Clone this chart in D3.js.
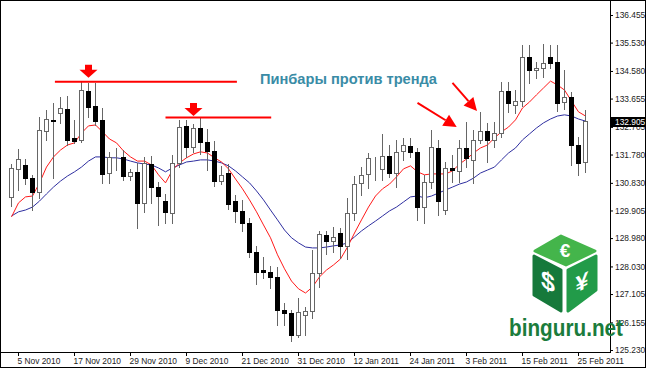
<!DOCTYPE html>
<html><head><meta charset="utf-8">
<script src="https://cdn.jsdelivr.net/npm/d3@7/dist/d3.min.js"></script>
<style>body{margin:0;background:#fff}svg{display:block}</style>
</head><body>
<svg id="c" width="646" height="368"></svg>
<script>
const dates = ["2010-11-04","2010-11-05","2010-11-08","2010-11-09","2010-11-10","2010-11-11","2010-11-12","2010-11-15","2010-11-16","2010-11-17","2010-11-18","2010-11-19","2010-11-22","2010-11-23","2010-11-24","2010-11-25","2010-11-26","2010-11-29","2010-11-30","2010-12-01","2010-12-02","2010-12-03","2010-12-06","2010-12-07","2010-12-08","2010-12-09","2010-12-10","2010-12-13","2010-12-14","2010-12-15","2010-12-16","2010-12-17","2010-12-20","2010-12-21","2010-12-22","2010-12-23","2010-12-24","2010-12-27","2010-12-28","2010-12-29","2010-12-30","2010-12-31","2011-01-03","2011-01-04","2011-01-05","2011-01-06","2011-01-07","2011-01-10","2011-01-11","2011-01-12","2011-01-13","2011-01-14","2011-01-17","2011-01-18","2011-01-19","2011-01-20","2011-01-21","2011-01-24","2011-01-25","2011-01-26","2011-01-27","2011-01-28","2011-01-31","2011-02-01","2011-02-02","2011-02-03","2011-02-04","2011-02-07","2011-02-08","2011-02-09","2011-02-10","2011-02-11","2011-02-14","2011-02-15","2011-02-16","2011-02-17","2011-02-18","2011-02-21","2011-02-22","2011-02-23","2011-02-24","2011-02-25","2011-02-28"];

const open = [130.36,131.30,131.43,130.99,130.53,132.57,132.94,133.17,133.31,132.34,
132.27,133.91,133.41,132.94,131.16,131.68,131.70,131.06,131.20,130.16,
131.46,130.69,130.22,129.82,131.50,132.74,132.03,132.67,132.20,131.90,
130.89,131.16,130.22,129.89,129.49,128.52,127.90,127.85,127.68,126.57,
126.47,125.74,126.41,126.54,127.81,129.09,128.88,129.15,128.72,129.82,
130.83,131.13,131.31,131.30,131.73,131.16,131.90,132.07,131.87,130.02,
130.86,132.00,129.92,131.33,131.23,132.00,131.60,132.27,132.57,132.27,
132.50,133.91,133.44,133.57,135.05,134.61,134.68,135.05,134.88,133.54,
133.71,132.10,131.53];
const high = [131.46,131.97,131.63,131.10,133.04,133.27,133.51,133.71,133.74,132.94,
134.21,134.18,134.18,133.34,131.87,132.00,131.93,131.30,131.50,131.70,
131.73,130.86,130.46,131.77,132.94,132.94,132.80,133.01,132.64,132.23,
131.40,131.46,130.43,130.26,129.66,128.72,128.35,128.05,128.01,126.81,
126.57,126.98,126.67,128.58,129.22,129.22,129.35,129.32,130.33,131.06,
131.36,131.83,131.70,132.47,132.10,132.27,132.34,132.34,132.00,131.10,
132.60,132.27,131.53,131.77,132.27,132.87,132.60,133.21,132.84,132.87,
134.21,134.21,133.94,135.45,135.45,134.88,135.48,135.45,135.45,134.61,
133.88,132.37,133.27];
const low = [130.06,130.59,130.79,129.92,130.33,132.27,130.99,132.84,132.10,132.17,
132.20,133.04,132.77,130.83,130.83,131.26,130.93,130.93,129.32,129.86,
130.16,129.42,129.49,129.49,131.36,131.70,131.87,131.80,131.26,130.73,
130.79,129.96,129.52,129.22,128.35,127.44,127.65,127.31,126.07,126.07,
125.53,125.67,125.74,126.31,127.34,128.45,128.52,128.32,128.28,129.59,
130.43,130.66,130.93,130.93,131.03,130.69,131.60,131.70,129.59,129.49,
130.66,129.76,129.79,130.86,130.86,131.36,130.83,132.17,131.53,132.03,
132.37,133.21,133.17,133.41,134.18,134.35,134.38,134.68,133.24,133.31,
131.43,131.10,131.20];
const close = [131.33,131.63,130.99,130.53,132.60,132.97,132.90,133.34,132.27,132.23,
133.94,133.37,132.90,131.13,131.70,131.65,131.06,131.20,130.16,131.50,
130.69,130.39,129.86,131.50,132.70,132.03,132.67,132.20,131.90,130.89,
131.10,130.12,129.89,129.49,128.52,127.85,127.86,127.68,126.57,126.47,
125.74,126.51,126.54,127.81,129.12,128.88,129.02,128.72,129.82,130.79,
131.10,131.67,131.28,131.73,131.16,131.87,132.10,131.87,130.02,130.86,
132.03,130.22,131.33,131.26,132.00,131.67,132.27,132.57,132.27,132.50,
133.91,133.51,133.57,135.05,134.61,134.68,134.85,134.85,133.51,133.71,
132.10,131.50,132.905];

const maFast = [129.69,130.16,130.36,130.39,130.83,131.36,131.70,131.93,132.10,132.17,
132.50,132.74,132.77,132.54,132.30,132.17,131.90,131.70,131.56,131.56,
131.43,131.10,130.83,131.26,131.50,131.67,131.80,131.87,131.83,131.67,
131.53,131.30,130.96,130.63,130.26,129.86,129.42,128.99,128.42,127.95,
127.54,127.28,127.14,127.34,127.68,127.91,128.08,128.28,128.68,129.15,
129.59,130.02,130.39,130.63,130.79,131.03,131.30,131.40,131.20,131.10,
131.13,131.13,131.13,131.23,131.46,131.63,131.83,132.00,132.10,132.34,
132.54,132.70,132.94,133.34,133.54,133.78,134.01,134.24,134.11,133.94,
133.57,133.21,133.07];
const maSlow = [129.72,129.86,129.92,130.02,130.22,130.46,130.69,130.89,131.06,131.20,
131.36,131.56,131.70,131.70,131.67,131.67,131.63,131.56,131.50,131.46,
131.43,131.33,131.20,131.33,131.43,131.53,131.56,131.60,131.60,131.56,
131.50,131.40,131.23,131.03,130.83,130.56,130.26,129.92,129.59,129.25,
128.99,128.82,128.68,128.65,128.65,128.68,128.72,128.75,128.82,129.02,
129.22,129.39,129.55,129.72,129.89,130.02,130.19,130.36,130.39,130.33,
130.39,130.49,130.59,130.69,130.79,130.86,130.99,131.16,131.26,131.36,
131.60,131.83,132.00,132.27,132.47,132.67,132.84,132.97,133.07,133.11,
133.07,132.97,132.90];

const yTickValues = [136.455,135.530,134.580,133.655,132.705,131.780,130.830,129.905,128.980,128.030,127.105,126.155,125.230];
const xTickDates = ["2010-11-05","2010-11-17","2010-11-29","2010-12-09","2010-12-21","2010-12-31","2011-01-12","2011-01-24","2011-02-03","2011-02-15","2011-02-25"];
const xTickLabels = ["5 Nov 2010","17 Nov 2010","29 Nov 2010","9 Dec 2010","21 Dec 2010","31 Dec 2010","12 Jan 2011","24 Jan 2011","3 Feb 2011","15 Feb 2011","25 Feb 2011"];
const lastPrice = 132.905;

// annotations (bar index, price)
const levelPrice = [134.22, 133.02];
const levelFrom = [6.2, 22.0];
const levelTo = [32.2, 37.1];
const pinBars = [11, 26];
const pinTip = [134.35, 133.07];
const arrowTail = [[58.0, 133.51],[63.0, 134.18]];
const arrowTip = [[63.6, 132.70],[66.5, 133.24]];
const noteText = "Пинбары против тренда";
const notePos = [35.5, 134.14];

const svg = d3.select("#c");
const W = 646, H = 368, axisX = 610, axisY = 352;
const font = "'Liberation Sans', Arial, sans-serif";

svg.append("rect").attr("width", W).attr("height", H).attr("fill", "#fff");

const x = d3.scaleLinear().domain([0, dates.length - 1]).range([11, 11 + 7 * (dates.length - 1)]);
const y = d3.scaleLinear().domain([125.230, 136.455]).range([350, 15]);
const px = i => x(i) + 0.5;

const plot = svg.append("g");
plot.append("clipPath").attr("id", "clip").append("rect").attr("x", 1).attr("y", 1).attr("width", axisX - 1).attr("height", axisY - 1);
const g = plot.append("g").attr("clip-path", "url(#clip)");

// moving averages
const line = d3.line().x((d, i) => px(i)).y(d => y(d));
g.append("path").datum(maSlow).attr("d", line).attr("fill", "none").attr("stroke", "#2f2fa0").attr("stroke-width", 1);
g.append("path").datum(maFast).attr("d", line).attr("fill", "none").attr("stroke", "#ff1a1a").attr("stroke-width", 1);

// candles
const idx = d3.range(dates.length);
const cg = g.append("g");
cg.selectAll("line.w").data(idx).join("line")
  .attr("x1", i => px(i)).attr("x2", i => px(i))
  .attr("y1", i => Math.round(y(high[i]))).attr("y2", i => Math.round(y(low[i])) + 1)
  .attr("stroke", "#666").attr("stroke-width", 1);
cg.selectAll("rect.b").data(idx).join("rect")
  .attr("x", i => x(i) - 1.5).attr("width", 4)
  .attr("y", i => Math.round(y(Math.max(open[i], close[i]))) + 0.5)
  .attr("height", i => Math.max(0, Math.round(y(Math.min(open[i], close[i]))) - Math.round(y(Math.max(open[i], close[i])))))
  .attr("fill", i => close[i] >= open[i] ? "#fff" : "#000")
  .attr("stroke", i => close[i] >= open[i] ? "#666" : "#000")
  .attr("stroke-width", 1);

// horizontal levels
levelPrice.forEach((p, k) => {
  g.append("line").attr("x1", px(levelFrom[k])).attr("x2", px(levelTo[k]))
   .attr("y1", y(p)).attr("y2", y(p)).attr("stroke", "#ff0000").attr("stroke-width", 2);
});
// pin bar markers
pinBars.forEach((b, k) => {
  const tx = px(b), ty = y(pinTip[k]);
  g.append("path").attr("d", `M${tx-3.5},${ty-13}H${tx+3.5}V${ty-8}H${tx+9}L${tx},${ty}L${tx-9},${ty-8}H${tx-3.5}Z`).attr("fill", "#ff0000");
});
// diagonal arrows
arrowTail.forEach((t, k) => {
  const x1 = px(t[0]), y1 = y(t[1]), x2 = px(arrowTip[k][0]), y2 = y(arrowTip[k][1]);
  const a = Math.atan2(y2 - y1, x2 - x1), L = 13, Wd = 6.5;
  const bx = x2 - L * Math.cos(a), by = y2 - L * Math.sin(a);
  g.append("line").attr("x1", x1).attr("y1", y1).attr("x2", bx).attr("y2", by).attr("stroke", "#ff0000").attr("stroke-width", 2);
  g.append("path").attr("d", `M${x2},${y2}L${bx + Wd*Math.sin(a)},${by - Wd*Math.cos(a)}L${bx - Wd*Math.sin(a)},${by + Wd*Math.cos(a)}Z`).attr("fill", "#ff0000");
});
g.append("text").attr("x", px(notePos[0])).attr("y", y(notePos[1])).text(noteText)
  .attr("font-family", font).attr("font-weight", "bold").attr("font-size", 14).attr("fill", "#3a8ca6")
  .attr("textLength", 177).attr("lengthAdjust", "spacingAndGlyphs");

// axes
const yAxis = d3.axisRight(y).tickValues(yTickValues).tickSize(3).tickPadding(2).tickFormat(d3.format(".3f"));
const ya = svg.append("g").attr("transform", `translate(${axisX},0)`).call(yAxis);
ya.select(".domain").remove();
ya.selectAll("line").attr("stroke", "#000");
ya.selectAll("text").attr("font-family", font).attr("font-size", 8.4).attr("fill", "#222");

const xAxis = d3.axisBottom(x).tickValues(xTickDates.map(d => dates.indexOf(d)))
  .tickFormat((d, i) => xTickLabels[i]).tickSize(4).tickPadding(2);
const xa = svg.append("g").attr("transform", `translate(0,${axisY})`).call(xAxis);
xa.select(".domain").remove();
xa.selectAll("line").attr("stroke", "#000");
xa.selectAll("text").attr("text-anchor", "start").attr("x", -1).attr("font-family", font).attr("font-size", 8.4).attr("fill", "#222");

svg.append("line").attr("x1", axisX + 0.5).attr("x2", axisX + 0.5).attr("y1", 0).attr("y2", axisY + 1).attr("stroke", "#000");
svg.append("line").attr("x1", 0).attr("x2", axisX + 1).attr("y1", axisY + 0.5).attr("y2", axisY + 0.5).attr("stroke", "#000");

// current price label
const ly = Math.round(y(lastPrice));
svg.append("rect").attr("x", axisX + 1).attr("y", ly - 4).attr("width", W - axisX - 1).attr("height", 10).attr("fill", "#000");
svg.append("text").attr("x", axisX + 5).attr("y", ly + 4).text(d3.format(".3f")(lastPrice))
  .attr("font-family", font).attr("font-size", 8.4).attr("fill", "#fff");

// outer frame
svg.append("rect").attr("x", 0.5).attr("y", 0.5).attr("width", W - 1).attr("height", H - 1).attr("fill", "none").attr("stroke", "#000");

// watermark logo
const logo = svg.append("g");
const face = (pts, col) => logo.append("path").attr("d", "M" + pts.join("L") + "Z")
  .attr("fill", col).attr("stroke", col).attr("stroke-width", 3).attr("stroke-linejoin", "round");
face([[535,251],[561,236],[595,251],[566,265]], "#44b54b");
face([[534,256],[561,270],[561,311],[534,295]], "#16793b");
face([[568,270],[596,256],[596,290],[568,311]], "#229b49");
logo.append("text").attr("x", 565).attr("y", 257).attr("text-anchor", "middle").text("€")
  .attr("font-family", font).attr("font-weight", "bold").attr("font-size", 19).attr("fill", "#fff");
logo.append("g").attr("transform", "translate(548,290) skewY(27)").append("text").attr("text-anchor", "middle").text("$")
  .attr("font-family", font).attr("font-weight", "bold").attr("font-size", 25).attr("fill", "#fff");
logo.append("g").attr("transform", "translate(582,290) skewY(-27)").append("text").attr("text-anchor", "middle").text("¥")
  .attr("font-family", font).attr("font-weight", "bold").attr("font-size", 23).attr("fill", "#fff");
logo.append("text").attr("x", 509).attr("y", 336).text("binguru.net")
  .attr("font-family", font).attr("font-weight", "bold").attr("font-size", 24).attr("fill", "#1b7c3c")
  .attr("textLength", 114).attr("lengthAdjust", "spacingAndGlyphs");
</script>
</body></html>
